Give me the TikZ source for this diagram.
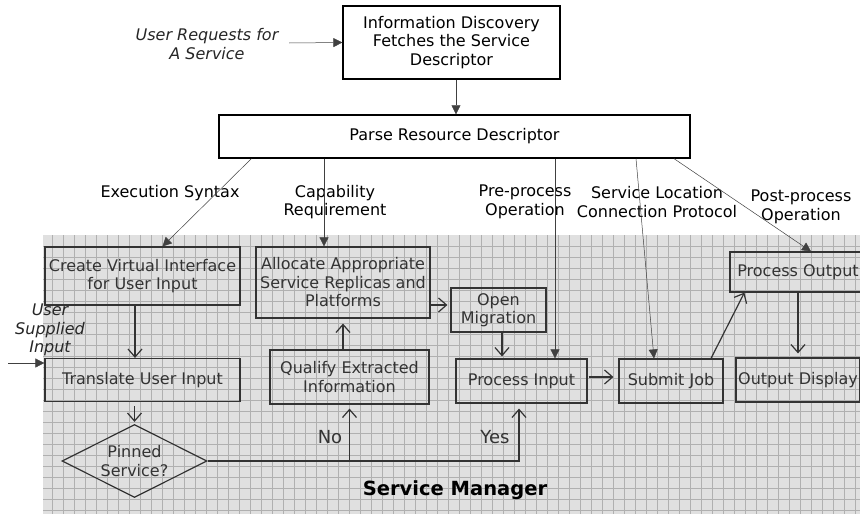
\documentclass[tikz,border=0pt]{standalone}
\usepackage{fontspec}
\setmainfont{DejaVu Sans}
\usetikzlibrary{arrows.meta,shapes.geometric}
\definecolor{boxgray}{HTML}{333333}
\definecolor{gridbg}{HTML}{E0E0E0}
\definecolor{gridline}{HTML}{B0B0B0}
\newcommand{\flowfont}{\fontsize{16}{18.5}\selectfont}
\tikzstyle{topbox}=[draw=black,line width=1.3pt,fill=white,align=center,inner sep=0pt,font=\flowfont]
\tikzstyle{mgrbox}=[draw=boxgray,line width=1.2pt,text=boxgray,align=center,inner sep=0pt,font=\flowfont]
\tikzstyle{lbl}=[align=center,inner sep=0pt,font=\flowfont]
\tikzstyle{itlbl}=[align=center,inner sep=0pt,text=black!85,font=\flowfont\itshape]
\tikzstyle{fetch}=[draw=black!75,line width=0.5pt,-{Triangle[length=9pt,width=9pt]}]
\tikzstyle{flow}=[draw=boxgray,line width=1.2pt,-{Straight Barb[length=8pt,width=14pt]}]

\begin{document}
\begin{tikzpicture}[x=1pt,y=-1pt]
\useasboundingbox (0,0) rectangle (860,514);
\clip (0,0) rectangle (860,514);

% grid paper behind the service manager
\fill[gridbg] (43,235) rectangle (860,514);
\foreach \gx in {52.3,63.3,...,860} \draw[gridline,line width=0.5pt] (\gx,235) -- (\gx,514);
\foreach \gy in {246.3,257.3,...,514} \draw[gridline,line width=0.5pt] (43,\gy) -- (860,\gy);

% discovery part
\node[topbox,minimum width=217pt,minimum height=73pt] at (451.5,42.5) (info) {Information Discovery\\Fetches the Service\\Descriptor};
\node[topbox,minimum width=471pt,minimum height=43pt] at (454.5,136.5) (parse) {Parse Resource Descriptor};
\node[itlbl] at (207,44) (request) {User Requests for\\A Service};
\coordinate (reqstart) at (289,43);

\node[lbl] at (170,193) (execlbl) {Execution Syntax};
\node[lbl] at (335,202) (caplbl) {Capability\\Requirement};
\node[lbl] at (525,202) (prelbl) {Pre-process\\Operation};
\node[lbl] at (657,202) (loclbl) {Service Location\\Connection Protocol};
\node[lbl] at (801,207) (postlbl) {Post-process\\Operation};

% service manager boxes
\node[mgrbox,minimum width=195pt,minimum height=58pt] at (142.5,276) (create) {Create Virtual Interface\\for User Input};
\node[mgrbox,minimum width=195pt,minimum height=43pt] at (142.5,380) (translate) {Translate User Input};
\node[mgrbox,diamond,aspect=2,minimum width=145pt,minimum height=73pt] at (134.5,461) (pinned) {Pinned\\Service?};
\node[mgrbox,minimum width=174pt,minimum height=71pt] at (343,282.5) (allocate) {Allocate Appropriate\\Service Replicas and\\Platforms};
\node[mgrbox,minimum width=159pt,minimum height=54pt] at (349.5,377) (qualify) {Qualify Extracted\\Information};
\node[mgrbox,minimum width=95pt,minimum height=44pt] at (498.5,310) (migration) {Open\\Migration};
\node[mgrbox,minimum width=131pt,minimum height=44pt] at (521.5,381) (procin) {Process Input};
\node[mgrbox,minimum width=104pt,minimum height=44pt] at (671,381) (submit) {Submit Job};
\node[mgrbox,minimum width=136pt,minimum height=40pt] at (798,272) (procout) {Process Output};
\node[mgrbox,minimum width=124pt,minimum height=44pt] at (798,380) (outdisp) {Output Display};

\node[itlbl] at (50,330) (supplied) {User\\Supplied\\Input};
\coordinate (inputstart) at (8,363);
\node[lbl,text=boxgray,font=\fontsize{18}{20}\selectfont] at (330,437) (nolbl) {No};
\node[lbl,text=boxgray,font=\fontsize{18}{20}\selectfont] at (495,437) (yeslbl) {Yes};
\node[lbl,font=\fontsize{19.5}{22}\selectfont\bfseries] at (455,490) (mgr) {Service Manager};

% descriptor arrows
\draw[fetch] (reqstart) -- (info.west);
\draw[fetch] ([xshift=4.5pt]info.south) -- ([xshift=4.5pt]info.south |- parse.north);
\draw[fetch] ([xshift=33pt]parse.south west) -- ([xshift=20pt]create.north);
\draw[fetch] ([xshift=-130.5pt]parse.south) -- ([xshift=-19pt]allocate.north);
\draw[fetch] ([xshift=100.5pt]parse.south) -- ([xshift=33.5pt]procin.north);
\draw[fetch] ([xshift=181.5pt]parse.south) -- ([xshift=-17pt]submit.north);
\draw[fetch] ([xshift=219.5pt]parse.south) -- ([xshift=13pt]procout.north);
\draw[fetch] (inputstart) -- (inputstart -| translate.west);

% manager flow
\draw[flow] ([xshift=-7.5pt]create.south) -- ([xshift=-7.5pt]translate.north);
\draw[flow,shorten <=4pt,shorten >=2pt] (pinned.north |- translate.south) -- (pinned.north);
\draw[flow,shorten >=5pt] (pinned.east) -| ([xshift=-2.5pt]procin.south);
\draw[flow,shorten >=4pt] (qualify.south |- pinned.east) -- (qualify.south);
\draw[flow,shorten >=5pt] (allocate.south |- qualify.north) -- (allocate.south);
\draw[flow,shorten >=3pt] ([yshift=5pt]migration.west -| allocate.east) -- ([yshift=5pt]migration.west);
\draw[flow,shorten >=2pt] ([xshift=3.5pt]migration.south) -- ([xshift=3.5pt]migration.south |- procin.north);
\draw[flow,shorten <=1pt,shorten >=5pt] ([yshift=4pt]procin.east) -- ([yshift=4pt]submit.west);
\draw[flow] ([xshift=40pt]submit.north) -- ([xshift=15pt]procout.south west);
\draw[flow,shorten >=4pt] (procout.south) -- (outdisp.north);
\end{tikzpicture}
\end{document}
